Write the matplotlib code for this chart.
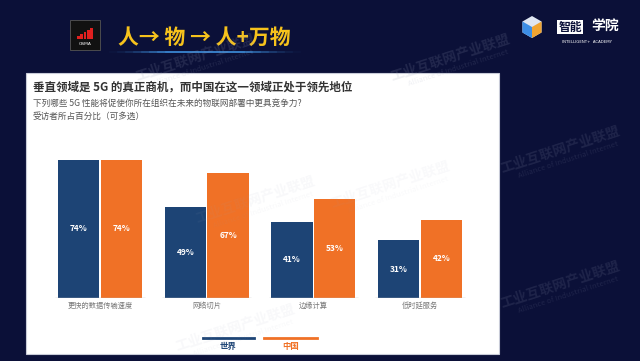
import matplotlib
matplotlib.use("Agg")
import matplotlib.pyplot as plt
from matplotlib.patches import Rectangle, Polygon
from matplotlib.lines import Line2D
import numpy as np

plt.rcParams['font.family'] = ['Noto Sans CJK SC', 'DejaVu Sans']

# ---- data ----
categories = ["更快的数据传输速度", "网络切片", "边缘计算", "低时延服务"]
world = [74, 49, 41, 31]
china = [74, 67, 53, 42]
series_names = ["世界", "中国"]

title = "垂直领域是 5G 的真正商机，而中国在这一领域正处于领先地位"
subtitle1 = "下列哪些 5G 性能将促使你所在组织在未来的物联网部署中更具竞争力?"
subtitle2 = "受访者所占百分比（可多选）"
header = "人→ 物 → 人+万物"

BG = "#0b1038"
BLUE = "#1d4475"
ORANGE = "#f07126"
W, H = 640, 361

fig = plt.figure(figsize=(W / 100, H / 100), dpi=100, facecolor=BG)

def fx(px):
    return px / W

def fy(py):
    return 1 - py / H

# white panel
fig.patches.append(Rectangle((fx(26), fy(354)), fx(499) - fx(26), fy(73) - fy(354),
                             transform=fig.transFigure, facecolor="white",
                             edgecolor="#c8cbd8", lw=0.8, zorder=-5))

# header glow line
for i, a in enumerate(np.linspace(0.05, 0.5, 8)):
    fig.lines.append(Line2D([fx(110 + i * 8), fx(300 - i * 8)], [fy(52), fy(52)],
                            transform=fig.transFigure, color="#4aa8ff", lw=1.2, alpha=a * 0.6))

# GSMA logo
fig.patches.append(Rectangle((fx(70), fy(50)), fx(30), fy(20) - fy(50),
                             transform=fig.transFigure, facecolor="#111111",
                             edgecolor="#555555", lw=0.6))
for i, hgt in enumerate([3, 5, 7, 9, 11]):
    fig.patches.append(Rectangle((fx(77 + i * 3.3), fy(39)), fx(2.6), fy(39 - hgt) - fy(39),
                                 transform=fig.transFigure, facecolor="#e0201f", lw=0))
fig.text(fx(85), fy(44), "GSMA", color="white", fontsize=3.2, ha="center", va="center",
         family=["DejaVu Sans"])

# header title
fig.text(fx(118), fy(37), header, color="#f6c21c", fontsize=15, fontweight="bold",
         ha="left", va="center")

# right logo: cube
cx, cy, r = 532, 27, 11
ang = np.deg2rad(np.arange(90, 450, 60))
hexpts = [(fx(cx + r * np.cos(a)), fy(cy - r * np.sin(a))) for a in ang]
fig.patches.append(Polygon(hexpts, closed=True, transform=fig.transFigure,
                           facecolor="#dfe6f2", edgecolor="none"))
c = (fx(cx), fy(cy))
left_face = [hexpts[1], hexpts[2], hexpts[3], c]
right_face = [hexpts[5], hexpts[4], hexpts[3], c]
fig.patches.append(Polygon(left_face, closed=True, transform=fig.transFigure,
                           facecolor="#3d8ee6", edgecolor="none"))
fig.patches.append(Polygon(right_face, closed=True, transform=fig.transFigure,
                           facecolor="#f0a431", edgecolor="none"))
fig.patches.append(Rectangle((fx(557), fy(34)), fx(26), fy(20) - fy(34),
                             transform=fig.transFigure, facecolor="white", lw=0))
fig.text(fx(570), fy(27), "智能", color="#0b1038", fontsize=8.5, fontweight="bold",
         ha="center", va="center")
fig.text(fx(605), fy(27), "学院", color="white", fontsize=10, fontweight="bold",
         ha="center", va="center")
fig.text(fx(587), fy(42), "INTELLIGENT+  ACADEMY", color="white", fontsize=2.8,
         ha="center", va="center", family=["DejaVu Sans"])

# watermarks (faint)
wm_pos = [(195, 58, 0.16), (450, 58, 0.16), (560, 150, 0.14), (560, 285, 0.14),
          (255, 200, 0.07), (390, 185, 0.06), (235, 328, 0.07)]
for (x, y, a) in wm_pos:
    fig.text(fx(x), fy(y), "工业互联网产业联盟", color="#9aa0b8", alpha=a, fontsize=10,
             fontweight="bold", rotation=18, ha="center", va="center")
    fig.text(fx(x + 8), fy(y + 10), "Alliance of Industrial Internet", color="#9aa0b8",
             alpha=a, fontsize=5.5, rotation=18, ha="center", va="center")

# titles in panel
fig.text(fx(33), fy(87), title, color="#333333", fontsize=8.3, fontweight="bold",
         ha="left", va="center")
fig.text(fx(33), fy(103), subtitle1, color="#555555", fontsize=6.2, ha="left", va="center")
fig.text(fx(33), fy(116), subtitle2, color="#555555", fontsize=6.2, ha="left", va="center")

# bar axes
ax_left, ax_right = 46.7, 473.3
base_px, top_px = 298, 298 - 80 * 1.865
ax = fig.add_axes([fx(ax_left), fy(base_px), fx(ax_right) - fx(ax_left), fy(top_px) - fy(base_px)])
ax.set_facecolor("none")
x = np.arange(len(categories))
bw = 0.385
off = 0.2
b1 = ax.bar(x - off, world, bw, color=BLUE, zorder=2)
b2 = ax.bar(x + off, china, bw, color=ORANGE, zorder=2)
for bars, vals in ((b1, world), (b2, china)):
    for rect, v in zip(bars, vals):
        ax.text(rect.get_x() + rect.get_width() / 2, v / 2, f"{v}%", color="white",
                fontsize=6, fontweight="bold", ha="center", va="center", zorder=4)
ax.hlines(np.zeros(len(x)), x - 0.42, x + 0.42, color="#bdbdbd", lw=1, zorder=3)
ax.set_xlim(-0.5, len(categories) - 0.5)
ax.set_ylim(0, 80)
ax.set_xticks(x, categories)
ax.tick_params(axis="x", length=0, pad=3, labelsize=5.2, labelcolor="#777777")
ax.set_yticks([])
for s in ax.spines.values():
    s.set_visible(False)

# legend
leg = [(203, 254, BLUE, series_names[0]), (264, 317, ORANGE, series_names[1])]
for x0, x1, col, name in leg:
    fig.lines.append(Line2D([fx(x0), fx(x1)], [fy(338), fy(338)], transform=fig.transFigure,
                            color=col, lw=2))
    fig.text(fx((x0 + x1) / 2), fy(346), name, color=col, fontsize=6, fontweight="bold",
             ha="center", va="center")

fig.savefig("out.png", dpi=100, facecolor=BG)
